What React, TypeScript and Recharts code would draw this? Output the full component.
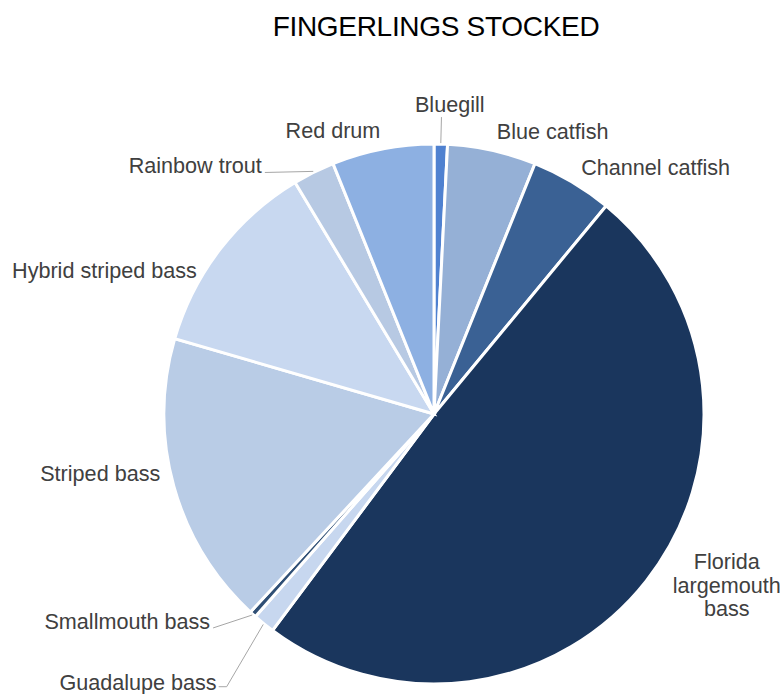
import React from 'react';
import { PieChart, Pie, Cell } from 'recharts';

const categories = [
  'Bluegill',
  'Blue catfish',
  'Channel catfish',
  'Florida largemouth bass',
  'Guadalupe bass',
  'Smallmouth bass',
  'Striped bass',
  'Hybrid striped bass',
  'Rainbow trout',
  'Red drum',
];

const shares = [0.8, 5.3, 4.9, 49.2, 1.3, 0.4, 17.6, 11.9, 2.5, 6.1];

const colors = [
  '#4f81d0',
  '#95b0d6',
  '#3a6194',
  '#1a365d',
  '#c7d7ef',
  '#2f4f75',
  '#b9cce6',
  '#c8d8f0',
  '#b7c9e3',
  '#8db0e2',
];

const labelLines: string[][] = [
  ['Bluegill'],
  ['Blue catfish'],
  ['Channel catfish'],
  ['Florida', 'largemouth', 'bass'],
  ['Guadalupe bass'],
  ['Smallmouth bass'],
  ['Striped bass'],
  ['Hybrid striped bass'],
  ['Rainbow trout'],
  ['Red drum'],
];

// label placement tweaks relative to a point just outside the slice
const labelLayout = [
  { dx: 8, dy: 0, anchor: 'middle', leader: 'radial' },
  { dx: 52, dy: 20, anchor: 'middle', leader: '' },
  { dx: 63, dy: 19, anchor: 'middle', leader: '' },
  { dx: 49, dy: -21, anchor: 'middle', leader: '' },
  { dx: -22, dy: 27, anchor: 'end', leader: 'elbow' },
  { dx: -16, dy: -23, anchor: 'end', leader: 'end' },
  { dx: -35, dy: -24, anchor: 'middle', leader: '' },
  { dx: -84, dy: 45, anchor: 'middle', leader: '' },
  { dx: -34, dy: 29, anchor: 'end', leader: 'end' },
  { dx: -42, dy: 20, anchor: 'middle', leader: '' },
];

const data = categories.map((name, i) => ({ name, value: shares[i] }));

const RAD = Math.PI / 180;

function polar(cx: number, cy: number, r: number, angle: number) {
  return { x: cx + r * Math.cos(-angle * RAD), y: cy + r * Math.sin(-angle * RAD) };
}

const renderLabel = (props: any) => {
  const { cx, cy, midAngle, outerRadius, index } = props;
  const lay = labelLayout[index];
  const base = polar(cx, cy, outerRadius + 40, midAngle);
  const tx = base.x + lay.dx;
  const ty = base.y + lay.dy;
  const lines = labelLines[index];
  const lh = 23.5;
  const y0 = ty - ((lines.length - 1) * lh) / 2;
  let leader: React.ReactNode = null;
  const s = polar(cx, cy, outerRadius + 1, midAngle);
  if (lay.leader === 'radial') {
    const e = polar(cx, cy, outerRadius + 27, midAngle);
    leader = <line x1={s.x} y1={s.y} x2={e.x} y2={e.y} stroke="#a6a6a6" strokeWidth={1} />;
  } else if (lay.leader === 'elbow') {
    leader = (
      <polyline
        points={`${s.x},${s.y} ${tx + 10},${ty + 5} ${tx + 2},${ty + 5}`}
        fill="none"
        stroke="#a6a6a6"
        strokeWidth={1}
      />
    );
  } else if (lay.leader === 'end') {
    leader = (
      <polyline
        points={`${s.x},${s.y} ${tx + 3},${ty + 7}`}
        fill="none"
        stroke="#a6a6a6"
        strokeWidth={1}
      />
    );
  }
  return (
    <g key={`lbl-${index}`}>
      {leader}
      <text
        x={tx}
        y={y0}
        textAnchor={lay.anchor as any}
        dominantBaseline="central"
        fill="#404040"
        fontSize={21.6}
        fontFamily="'Liberation Sans', Arial, sans-serif"
      >
        {lines.map((l, k) => (
          <tspan key={k} x={tx} y={y0 + k * lh} dominantBaseline="central">
            {l}
          </tspan>
        ))}
      </text>
    </g>
  );
};

export default function App() {
  return (
    <div style={{ position: 'absolute', left: 0, top: 0, width: 784, height: 694, background: '#fff' }}>
      <div
        style={{
          position: 'absolute',
          left: 0,
          top: 10,
          width: 872,
          textAlign: 'center',
          fontFamily: "'Liberation Sans', Arial, sans-serif",
          fontSize: 28,
          color: '#000',
          lineHeight: '34px',
          letterSpacing: -0.3,
        }}
      >
        FINGERLINGS STOCKED
      </div>
      <PieChart
        width={784}
        height={694}
        margin={{ top: 0, right: 0, bottom: 0, left: 0 }}
        style={{ position: 'absolute', left: 0, top: 0 }}
      >
        <Pie
          data={data}
          dataKey="value"
          nameKey="name"
          cx={434}
          cy={414}
          outerRadius={270}
          startAngle={90}
          endAngle={-270}
          stroke="#ffffff"
          strokeWidth={3}
          label={renderLabel}
          labelLine={false}
          isAnimationActive={false}
        >
          {data.map((d, i) => (
            <Cell key={d.name} fill={colors[i]} />
          ))}
        </Pie>
      </PieChart>
    </div>
  );
}
